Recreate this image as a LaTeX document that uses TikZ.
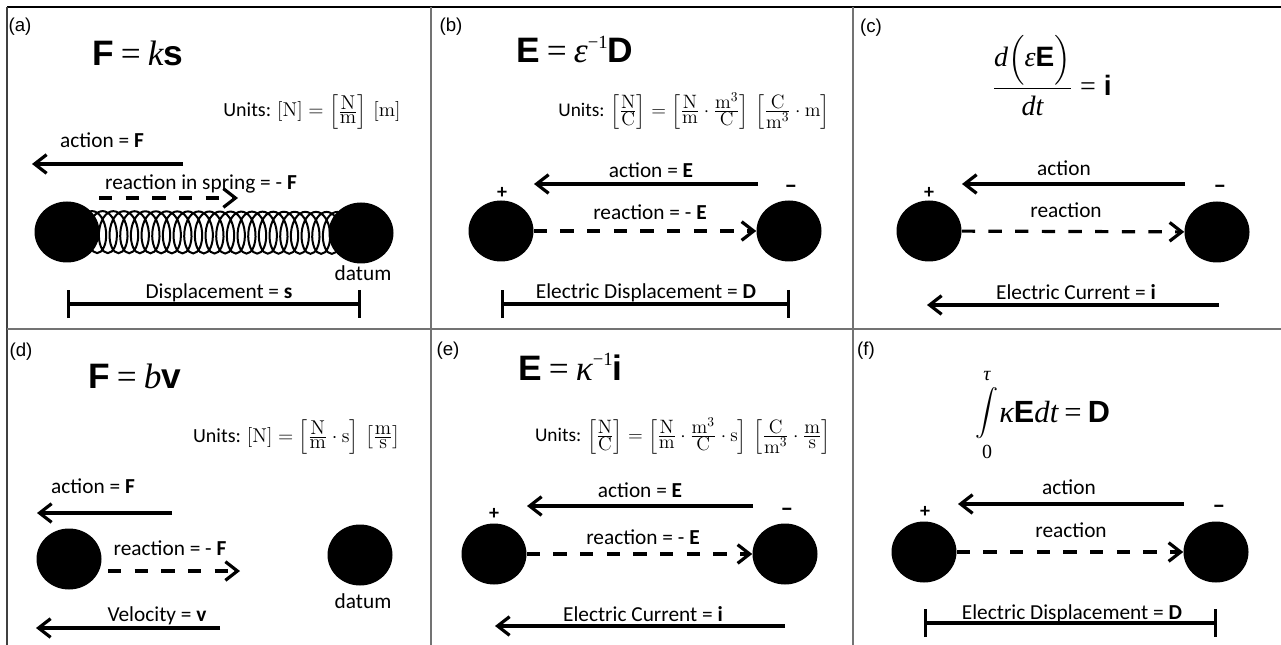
\RequirePackage{fix-cm}
\documentclass[tikz,border=0pt]{standalone}
\usepackage[no-math]{fontspec}
\usepackage{exscale}
\setmainfont{Carlito}
\newfontfamily\arialf{Liberation Sans}
\newfontfamily\timesf{Liberation Serif}
\usetikzlibrary{arrows.meta,shapes.geometric,decorations.pathmorphing,backgrounds}
\newcommand{\eqAB}[1]{\mbox{\arialf\bfseries #1}}
\newcommand{\eqTI}[1]{\mbox{\timesf\itshape #1}}
\newcommand{\eqTR}[1]{\mbox{\timesf #1}}
\newcommand{\eqsup}[1]{\raisebox{0.42em}{\fontsize{14}{16}\selectfont\timesf #1}}
\newcommand{\eqgap}{\hspace{0.2em}}
\newcommand{\ufrac}[2]{\frac{\textstyle\mathrm{#1}}{\textstyle\mathrm{#2}}}
\begin{document}
\begin{tikzpicture}[x=0.75pt,y=-0.75pt,
  lbl/.style={font=\fontsize{16}{19}\selectfont, inner sep=0pt, anchor=base},
  panel/.style={font=\arialf\fontsize{14}{16}\selectfont, inner sep=0pt},
  eqn/.style={font=\fontsize{26.5}{30}\selectfont, inner sep=0pt, anchor=base west},
  units/.style={font=\fontsize{15}{18}\selectfont, inner sep=0pt},
  ball/.style={ellipse, fill=black, minimum width=48.75pt, minimum height=45.75pt, inner sep=0pt},
  plus/.style={font=\bfseries\fontsize{15}{17}\selectfont, inner sep=0pt},
  minus/.style={font=\bfseries\fontsize{19}{21}\selectfont, inner sep=0pt},
  act/.style={line width=2.4pt, -{Straight Barb[length=9pt,width=14pt]}},
  react/.style={act, dash pattern=on 10pt off 10pt},
  dimbar/.style={line width=2.4pt, {Bar[width=21pt]}-{Bar[width=21pt]}},
  spring/.style={line width=1.5pt, decorate, decoration={coil, amplitude=15.75pt, segment length=8pt, aspect=0.55}},
  frameline/.style={line width=1pt, draw=black!55}
]
\useasboundingbox (0,0) rectangle (1281,645);
% frame
\draw[line width=1.3pt] (7,7) -- (1281,7);
\draw[frameline, draw=black!75] (7,7) -- (7,645);
\draw[frameline] (431,7) -- (431,645);
\draw[frameline] (853,7) -- (853,645);
\draw[frameline] (7,329) -- (1281,329);

% ---------- (a)
\node[panel] (pa) at (20,27) {(a)};
\node[eqn] (ea) at (92,66) {\eqAB{F}\eqgap\eqTR{=}\eqgap\eqTI{k}\eqAB{s}};
\node[units] (ua) at (312,112) {Units: $[\mathrm{N}] = \left[\ufrac{N}{m}\right]\,[\mathrm{m}]$};
\node[lbl] (la1) at (102,148) {action = \textbf{F}};
\coordinate (aAs) at (183,164); \coordinate (aAe) at (32,164);
\draw[act] (aAs) -- (aAe);
\node[lbl] (la2) at (201,190) {reaction in spring = - \textbf{F}};
\coordinate (aRs) at (99,198); \coordinate (aRe) at (238,198);
\draw[react] (aRs) -- (aRe);
\node[ball] (a1) at (67,232) {};
\node[ball] (a2) at (361,233) {};
\begin{scope}[on background layer]
\draw[spring] (a1.center) -- (a2.center);
\end{scope}
\node[lbl] (la3) at (363,281) {datum};
\node[lbl] (la4) at (219,298) {Displacement = \textbf{s}};
\coordinate (aBs) at (67,304); \coordinate (aBe) at (361,304);
\draw[dimbar] (aBs) -- (aBe);

% ---------- (b)
\node[panel] (pb) at (451,27) {(b)};
\node[eqn] (eb) at (516,63) {\eqAB{E}\eqgap\eqTR{=}\eqgap\eqTI{ε}\eqsup{−1}\eqAB{D}};
\node[units, font=\fontsize{14.5}{17}\selectfont] (ub) at (694,111) {Units: $\left[\ufrac{N}{C}\right] = \left[\ufrac{N}{m}\cdot\ufrac{m^3}{C}\right]\,\left[\ufrac{C}{m^3}\cdot\mathrm{m}\right]$};
\node[lbl] (lb1) at (651,178) {action = \textbf{E}};
\coordinate (bAs) at (758,184); \coordinate (bAe) at (534,184);
\draw[act] (bAs) -- (bAe);
\node[plus] (bp) at (502,193) {+};
\node[minus] (bm) at (791,189) {–};
\node[ball] (b1) at (501,231) {};
\node[ball] (b2) at (789,231) {};
\node[lbl] (lb2) at (650,220) {reaction = - \textbf{E}};
\draw[react] (b1) -- (b2);
\node[lbl] (lb3) at (646,298) {Electric Displacement = \textbf{D}};
\coordinate (bBs) at (501,304); \coordinate (bBe) at (790,304);
\draw[dimbar] (bBs) -- (bBe);

% ---------- (c)
\node[panel] (pc) at (871,28) {(c)};
\node[inner sep=0pt, font=\fontsize{21}{25}\selectfont] (ec) at (1052,75)
  {$\displaystyle\frac{\eqTI{d}\Bigl(\eqTI{ε}\eqAB{E}\Bigr)}{\eqTI{dt}}\mathrel{\eqTR{=}}\eqAB{i}$};
\node[lbl] (lc1) at (1064,176) {action};
\coordinate (cAs) at (1185,184); \coordinate (cAe) at (962,184);
\draw[act] (cAs) -- (cAe);
\node[plus] (cp) at (929,193) {+};
\node[minus] (cm) at (1220,189) {–};
\node[ball] (c1) at (929,231) {};
\node[ball] (c2) at (1217,232) {};
\node[lbl] (lc2) at (1066,218) {reaction};
\draw[react] (c1) -- (c2);
\node[lbl] (lc3) at (1076,300) {Electric Current = \textbf{i}};
\coordinate (cCs) at (1219,305); \coordinate (cCe) at (927,305);
\draw[act] (cCs) -- (cCe);

% ---------- (d)
\node[panel] (pd) at (21,352) {(d)};
\node[eqn] (ed) at (88,388) {\eqAB{F}\eqgap\eqTR{=}\eqgap\eqTI{b}\eqAB{v}};
\node[units] (ud) at (297,437) {Units: $[\mathrm{N}] = \left[\ufrac{N}{m}\cdot\mathrm{s}\right]\,\left[\ufrac{m}{s}\right]$};
\node[lbl] (ld1) at (93,493) {action = \textbf{F}};
\coordinate (dAs) at (172,513); \coordinate (dAe) at (37,513);
\draw[act] (dAs) -- (dAe);
\node[ball] (d1) at (69,559) {};
\node[ball] (d2) at (360,555) {};
\node[lbl] (ld2) at (170,555) {reaction = - \textbf{F}};
\coordinate (dRs) at (108,571); \coordinate (dRe) at (240,571);
\draw[react] (dRs) -- (dRe);
\node[lbl] (ld3) at (363,608) {datum};
\node[lbl] (ld4) at (157,621) {Velocity = \textbf{v}};
\coordinate (dVs) at (220,628); \coordinate (dVe) at (36,628);
\draw[act] (dVs) -- (dVe);

% ---------- (e)
\node[panel] (pe) at (448,351) {(e)};
\node[eqn] (ee) at (518,380) {\eqAB{E}\eqgap\eqTR{=}\eqgap\eqTI{κ}\eqsup{−1}\eqAB{i}};
\node[units, font=\fontsize{14.5}{17}\selectfont] (ue) at (683,436) {Units: $\left[\ufrac{N}{C}\right] = \left[\ufrac{N}{m}\cdot\ufrac{m^3}{C}\cdot\mathrm{s}\right]\,\left[\ufrac{C}{m^3}\cdot\ufrac{m}{s}\right]$};
\node[lbl] (le1) at (640,497) {action = \textbf{E}};
\coordinate (eAs) at (753,506); \coordinate (eAe) at (527,506);
\draw[act] (eAs) -- (eAe);
\node[plus] (ep) at (494,514) {+};
\node[minus] (em) at (787,512) {–};
\node[ball] (e1) at (494,554) {};
\node[ball] (e2) at (785,554) {};
\node[lbl] (le2) at (643,544) {reaction = - \textbf{E}};
\draw[react] (e1) -- (e2);
\node[lbl] (le3) at (643,621) {Electric Current = \textbf{i}};
\coordinate (eCs) at (785,626); \coordinate (eCe) at (495,626);
\draw[act] (eCs) -- (eCe);

% ---------- (f)
\node[panel] (pf) at (866,351) {(f)};
\node[inner sep=0pt, font=\fontsize{16}{19}\selectfont] (fint) at (987,413) {$\displaystyle\int$};
\node[inner sep=0pt, font=\fontsize{15}{17}\selectfont] (ftau) at (987,376) {\eqTI{τ}};
\node[inner sep=0pt, font=\fontsize{15}{17}\selectfont] (fzero) at (987,452) {\eqTR{0}};
\node[eqn, font=\fontsize{23}{27}\selectfont] (ef) at (999,422) {\eqTI{κ}\eqAB{E}\eqTI{dt}\eqgap\eqTR{=}\eqgap\eqAB{D}};
\node[lbl] (lf1) at (1069,494) {action};
\coordinate (fAs) at (1184,504); \coordinate (fAe) at (958,504);
\draw[act] (fAs) -- (fAe);
\node[plus] (fp) at (925,512) {+};
\node[minus] (fm) at (1219,509) {–};
\node[ball] (f1) at (924,552) {};
\node[ball] (f2) at (1216,552) {};
\node[lbl] (lf2) at (1071,537) {reaction};
\draw[react] (f1) -- (f2);
\node[lbl] (lf3) at (1072,619) {Electric Displacement = \textbf{D}};
\coordinate (fBs) at (924,623); \coordinate (fBe) at (1217,623);
\draw[dimbar] (fBs) -- (fBe);
\end{tikzpicture}
\end{document}
